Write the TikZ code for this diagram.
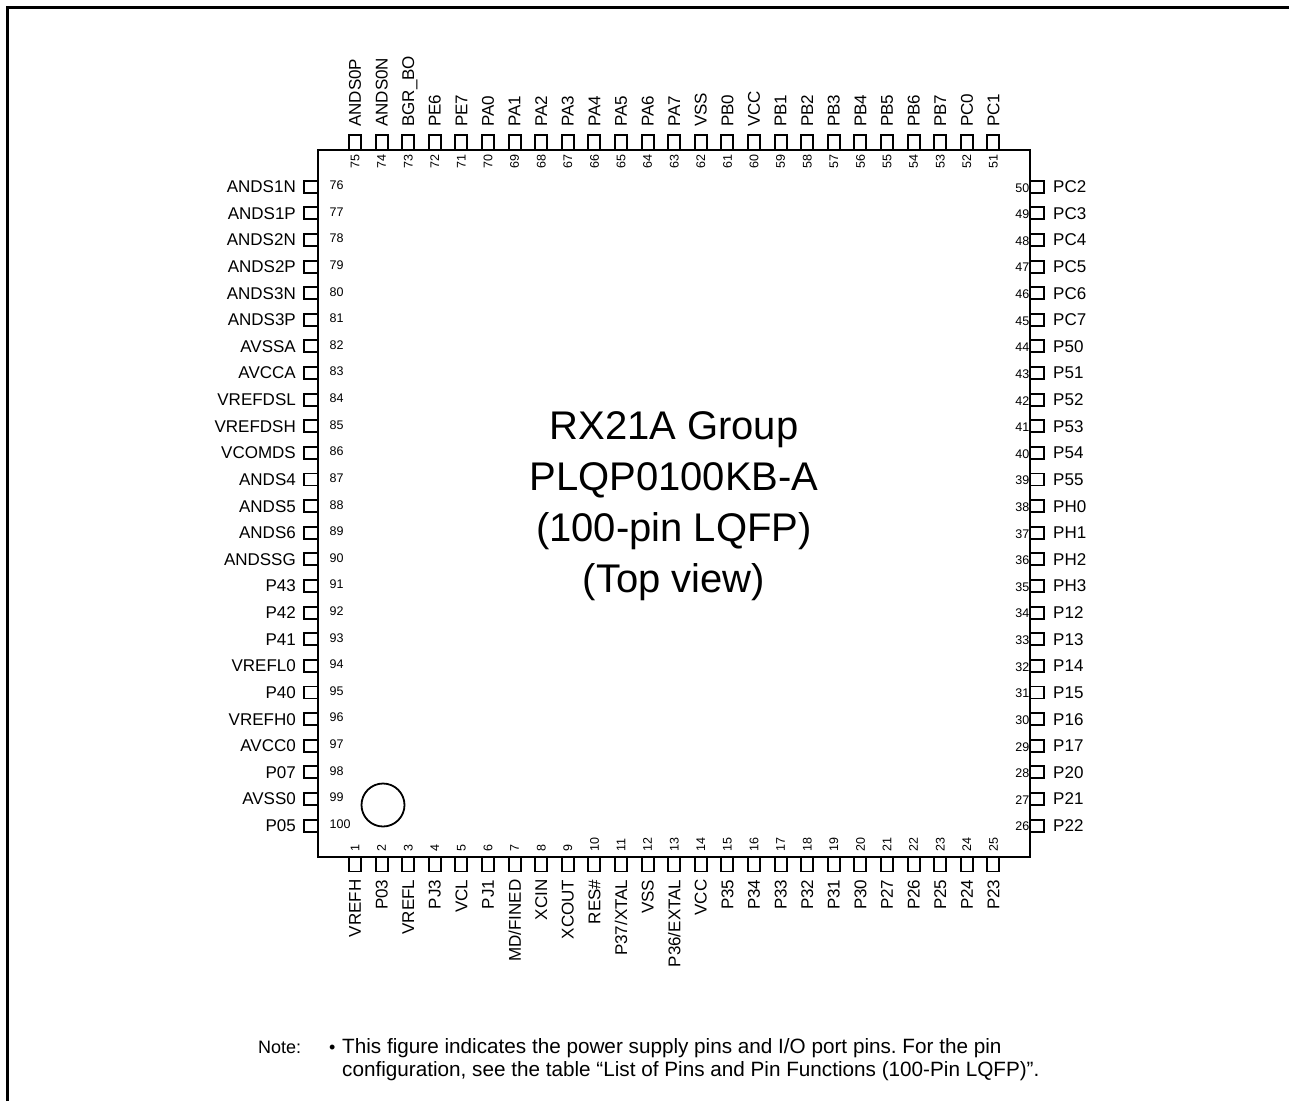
\documentclass[tikz,border=0pt]{standalone}
\usepackage{fontspec}
\setmainfont{Liberation Sans}
\frenchspacing
\begin{document}
\begin{tikzpicture}[x=1pt,y=-1pt,
  frameline/.style={line width=3pt},
  bodyline/.style={line width=2pt},
  pinline/.style={line width=1.9pt},
  pinname/.style={inner sep=0pt, text depth=0pt, font=\fontsize{17}{20}\selectfont},
  pinnum/.style={inner sep=0pt, text depth=0pt, font=\fontsize{12.5}{15}\selectfont},
  titletext/.style={inner sep=0pt, align=center, font=\fontsize{40}{51}\selectfont},
  notetext/.style={inner sep=0pt, align=left, font=\fontsize{20.7}{23}\selectfont},
  notehead/.style={inner sep=0pt, font=\fontsize{18}{23}\selectfont}
]
\useasboundingbox (0,0) rectangle (1289,1101);
% outer frame (left and top edges)
\draw[frameline] (7.5,1101) -- (7.5,7.5) -- (1289,7.5);
% package body
\draw[bodyline] (318,149.5) rectangle (1030,857) node[pos=0, inner sep=0pt] (body) {};
\coordinate (bodyc) at (674,506);
% pin-1 marker
\draw[line width=1.8pt] (383,805) circle (21.5);
% top side: pins 75..51
\foreach \n [count=\i from 0] in {ANDS0P,ANDS0N,BGR\_BO,PE6,PE7,PA0,PA1,PA2,PA3,PA4,PA5,PA6,PA7,VSS,PB0,VCC,PB1,PB2,PB3,PB4,PB5,PB6,PB7,PC0,PC1}{
  \pgfmathsetmacro\px{355+\i*26.6}
  \pgfmathtruncatemacro\num{75-\i}
  \draw[pinline] (\px-6,135) rectangle (\px+6,149.5);
  \node[pinname, rotate=90, anchor=west] (tn\num) at (\px,127) {\n};
  \node[pinnum, rotate=90, anchor=east] (tp\num) at (\px,154) {\num};
}
% bottom side: pins 1..25
\foreach \n [count=\i from 0] in {VREFH,P03,VREFL,PJ3,VCL,PJ1,MD/FINED,XCIN,XCOUT,RES\#,P37/XTAL,VSS,P36/EXTAL,VCC,P35,P34,P33,P32,P31,P30,P27,P26,P25,P24,P23}{
  \pgfmathsetmacro\px{355+\i*26.6}
  \pgfmathtruncatemacro\num{1+\i}
  \draw[pinline] (\px-6,857) rectangle (\px+6,871.5);
  \node[pinname, rotate=90, anchor=east] (bn\num) at (\px,879.5) {\n};
  \node[pinnum, rotate=90, anchor=west] (bp\num) at (\px,852) {\num};
}
% left side: pins 76..100
\foreach \n [count=\i from 0] in {ANDS1N,ANDS1P,ANDS2N,ANDS2P,ANDS3N,ANDS3P,AVSSA,AVCCA,VREFDSL,VREFDSH,VCOMDS,ANDS4,ANDS5,ANDS6,ANDSSG,P43,P42,P41,VREFL0,P40,VREFH0,AVCC0,P07,AVSS0,P05}{
  \pgfmathsetmacro\py{186.7+\i*26.62}
  \pgfmathtruncatemacro\num{76+\i}
  \draw[pinline] (304,\py-6) rectangle (318,\py+6);
  \node[pinname, anchor=east] (ln\num) at (296,\py) {\n};
  \node[pinnum, anchor=west] (lp\num) at (329.5,\py-1.5) {\num};
}
% right side: pins 50..26
\foreach \n [count=\i from 0] in {PC2,PC3,PC4,PC5,PC6,PC7,P50,P51,P52,P53,P54,P55,PH0,PH1,PH2,PH3,P12,P13,P14,P15,P16,P17,P20,P21,P22}{
  \pgfmathsetmacro\py{186.7+\i*26.62}
  \pgfmathtruncatemacro\num{50-\i}
  \draw[pinline] (1030,\py-6) rectangle (1044,\py+6);
  \node[pinname, anchor=west] (rn\num) at (1053,\py) {\n};
  \node[pinnum, anchor=east] (rp\num) at (1029.5,\py+1) {\num};
}
% title
\node[titletext] (title) at (bodyc) {RX21A Group\\PLQP0100KB-A\\(100-pin LQFP)\\(Top view)};
% note
\node[notehead, anchor=base west] (notelabel) at (258,1053) {Note:};
\node[notehead, anchor=base west] (notebullet) at (329,1053) {•};
\node[notetext, anchor=north west] (notebody) at (342,1053-14.8) {This figure indicates the power supply pins and I/O port pins. For the pin\\configuration, see the table “List of Pins and Pin Functions (100-Pin LQFP)”.};
\end{tikzpicture}
\end{document}
